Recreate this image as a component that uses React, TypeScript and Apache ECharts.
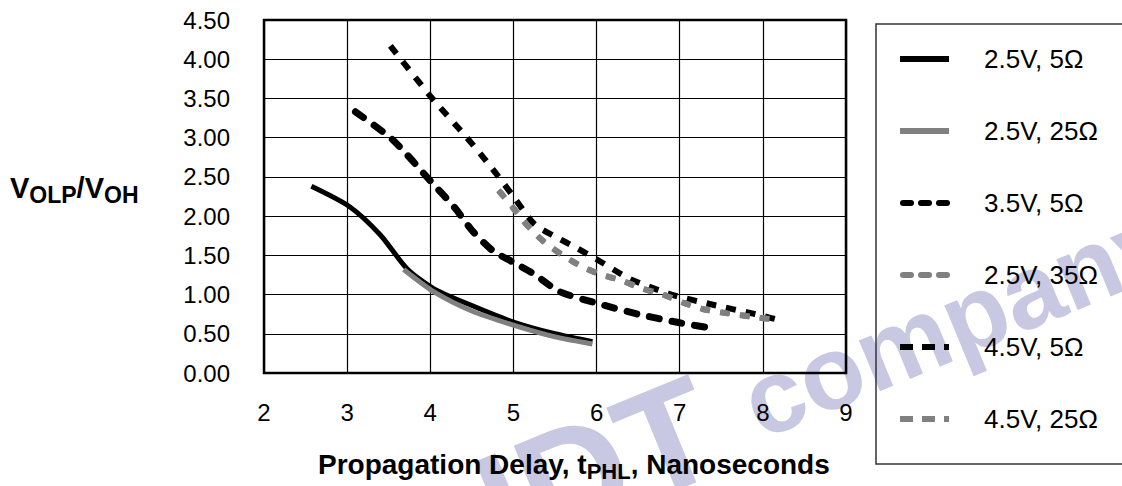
import React, { useEffect, useRef } from "react";
import * as echarts from "echarts";

// ---- data ----
const seriesNames = ["2.5V, 5Ω", "2.5V, 25Ω", "3.5V, 5Ω", "2.5V, 35Ω", "4.5V, 5Ω", "4.5V, 25Ω"];

const v25r5 = [
  [2.57, 2.38], [3.03, 2.12], [3.4, 1.76], [3.72, 1.33], [4.05, 1.07],
  [4.5, 0.86], [5.0, 0.65], [5.5, 0.5], [5.95, 0.4],
];
const v25r25 = [
  [3.68, 1.32], [4.05, 1.03], [4.5, 0.79], [5.0, 0.61], [5.5, 0.46], [5.95, 0.37],
];
const v35r5 = [
  [3.1, 3.33], [3.55, 2.97], [4.0, 2.45], [4.3, 2.1], [4.5, 1.82], [4.75, 1.56],
  [5.0, 1.41], [5.25, 1.26], [5.55, 1.04], [6.0, 0.89], [6.5, 0.75], [7.0, 0.64], [7.45, 0.56],
];
const v25r35 = [
  [4.82, 2.33], [5.0, 2.1], [5.16, 1.89], [5.36, 1.68], [5.58, 1.51], [5.8, 1.37],
  [6.04, 1.26], [6.3, 1.18], [6.54, 1.08], [6.8, 1.0], [7.06, 0.89], [7.3, 0.81],
  [7.58, 0.76], [7.85, 0.72], [8.15, 0.68],
];
const v45r5 = [
  [3.52, 4.17], [4.0, 3.53], [4.44, 3.0], [4.75, 2.6], [5.0, 2.25], [5.25, 1.9],
  [5.5, 1.74], [5.75, 1.6], [6.0, 1.45], [6.4, 1.2], [6.9, 1.0], [7.4, 0.87],
  [7.95, 0.74], [8.25, 0.66],
];
const v45r25 = [
  [4.82, 2.33], [5.0, 2.1], [5.16, 1.89], [5.36, 1.68], [5.58, 1.51], [5.8, 1.37],
  [6.04, 1.26], [6.3, 1.18], [6.54, 1.08], [6.8, 1.0], [7.06, 0.89], [7.3, 0.81],
  [7.58, 0.76], [7.85, 0.72], [8.15, 0.68],
];
const seriesData = [v25r5, v25r25, v35r5, v25r35, v45r5, v45r25];

const xMin = 2, xMax = 9, xStep = 1;
const yMin = 0, yMax = 4.5, yStep = 0.5;

// ---- styles ----
const BLACK = "#000000";
const GRAY = "#808080";
const lineStyles: any[] = [
  { color: BLACK, width: 5, type: "solid", cap: "butt" },
  { color: GRAY, width: 5, type: "solid", cap: "butt" },
  { color: BLACK, width: 7, type: [10, 13], cap: "round" },
  { color: GRAY, width: 6, type: [4, 16], cap: "round", dashOffset: -3 },
  { color: BLACK, width: 6, type: [10, 10], cap: "butt" },
  { color: GRAY, width: 6, type: [10, 10], cap: "butt" },
];
const legendStyles: any[] = [
  { stroke: BLACK, lineWidth: 6 },
  { stroke: GRAY, lineWidth: 6 },
  { stroke: BLACK, lineWidth: 6, lineDash: [8, 10], lineCap: "round", lineDashOffset: -3 },
  { stroke: GRAY, lineWidth: 6, lineDash: [8, 10], lineCap: "round", lineDashOffset: -3 },
  { stroke: BLACK, lineWidth: 6, lineDash: [13, 9] },
  { stroke: GRAY, lineWidth: 6, lineDash: [13, 9] },
];

const FONT = "'Liberation Sans', Arial, Helvetica, sans-serif";
const WM = "#c8c8e3";
const WM_ROT = 0.39;

const titleRich = (main: number, sub: number, pad: number) => ({
  b: { fontSize: main, fontWeight: "bold", fontFamily: FONT, color: "#000", verticalAlign: "top", lineHeight: main + 4 },
  s: { fontSize: sub, fontWeight: "bold", fontFamily: FONT, color: "#000", verticalAlign: "top", lineHeight: main + 4, padding: [pad, 0, 0, 0] },
});

export default function App() {
  const ref = useRef<HTMLDivElement>(null);
  useEffect(() => {
    if (!ref.current) return;
    const chart = echarts.init(ref.current, undefined, { renderer: "svg" });
    const legendTop = 59;
    const legendGap = 72;
    const legendGraphics: any[] = [];
    seriesNames.forEach((name, i) => {
      const y = legendTop + i * legendGap;
      legendGraphics.push({
        type: "line",
        z: 100,
        shape: { x1: 900, y1: y, x2: 949, y2: y },
        style: { ...legendStyles[i], fill: null },
      });
      legendGraphics.push({
        type: "text",
        z: 100,
        x: 984,
        y: y,
        style: {
          text: name,
          fill: "#000",
          font: `26px ${FONT}`,
          textAlign: "left",
          textVerticalAlign: "middle",
        },
      });
    });

    const option: any = {
      animation: false,
      backgroundColor: "#ffffff",
      textStyle: { fontFamily: FONT },
      grid: {
        left: 264,
        top: 20,
        width: 582,
        height: 353,
        show: true,
        borderColor: "#000",
        borderWidth: 2.5,
        backgroundColor: "transparent",
      },
      xAxis: {
        type: "value",
        min: xMin,
        max: xMax,
        interval: xStep,
        axisLine: { show: false },
        axisTick: { show: false },
        splitLine: { show: true, lineStyle: { color: "#000", width: 1.2 } },
        axisLabel: { color: "#000", fontSize: 24, fontFamily: FONT, margin: 27 },
      },
      yAxis: {
        type: "value",
        min: yMin,
        max: yMax,
        interval: yStep,
        axisLine: { show: false },
        axisTick: { show: false },
        splitLine: { show: true, lineStyle: { color: "#000", width: 1.2 } },
        axisLabel: {
          color: "#000",
          fontSize: 24,
          fontFamily: FONT,
          margin: 34,
          formatter: (v: number) => v.toFixed(2),
        },
      },
      series: seriesNames.map((name, i) => ({
        name,
        type: "line",
        data: seriesData[i],
        showSymbol: false,
        symbol: "none",
        smooth: 0.25,
        z: 2 + i,
        lineStyle: lineStyles[i],
      })),
      graphic: [
        // watermark
        {
          type: "text",
          z: -10,
          x: 514,
          y: 582,
          rotation: WM_ROT,
          style: {
            text: "IDT",
            fill: WM,
            font: `bold 150px ${FONT}`,
            textAlign: "left",
            textVerticalAlign: "bottom",
          },
        },
        {
          type: "text",
          z: -10,
          x: 767,
          y: 455,
          rotation: WM_ROT,
          style: {
            text: "company",
            fill: WM,
            font: `bold 104px ${FONT}`,
            textAlign: "left",
            textVerticalAlign: "bottom",
          },
        },
        // legend box
        {
          type: "rect",
          z: 99,
          shape: { x: 876, y: 24, width: 270, height: 440 },
          style: { fill: null, stroke: "#333", lineWidth: 1.5 },
        },
        ...legendGraphics,
        // y axis title
        {
          type: "text",
          z: 100,
          x: 10,
          y: 190,
          style: {
            text: "{b|V}{s|OLP}{b|/V}{s|OH}",
            textVerticalAlign: "middle",
            rich: titleRich(29, 23, 10),
          },
        },
        // x axis title
        {
          type: "text",
          z: 100,
          x: 318,
          y: 466,
          style: {
            text: "{b|Propagation Delay, t}{s|PHL}{b|, Nanoseconds}",
            textVerticalAlign: "middle",
            rich: titleRich(28, 22, 10),
          },
        },
      ],
    };
    chart.setOption(option);
    return () => chart.dispose();
  }, []);
  return (
    <div
      ref={ref}
      style={{ position: "fixed", left: 0, top: 0, width: 1122, height: 486, background: "#fff" }}
    />
  );
}
